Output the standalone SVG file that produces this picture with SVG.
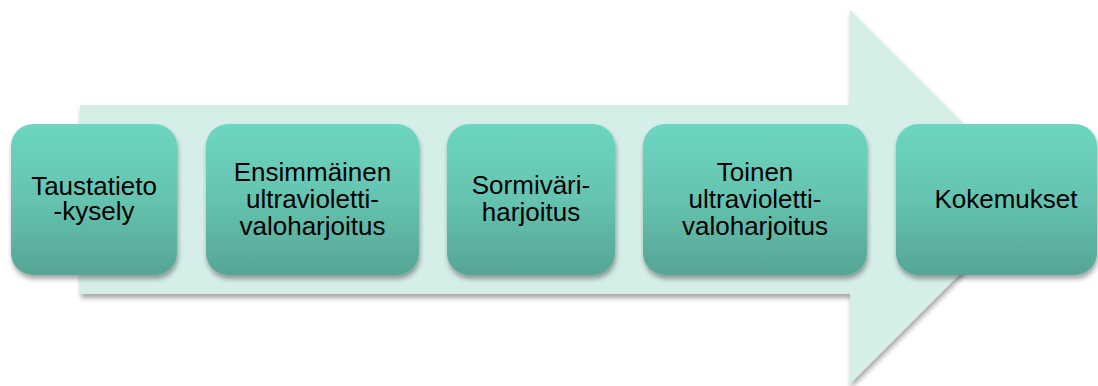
<svg xmlns="http://www.w3.org/2000/svg" width="1098" height="386" viewBox="0 0 1098 386">
<defs>
<linearGradient id="g" x1="0" y1="0" x2="0" y2="1">
<stop offset="0" stop-color="#6dd6c1"/>
<stop offset="0.5" stop-color="#65c3b0"/>
<stop offset="1" stop-color="#56a595"/>
</linearGradient>
<filter id="sh" x="-10%" y="-10%" width="130%" height="130%">
<feGaussianBlur in="SourceAlpha" stdDeviation="2.5"/>
<feOffset dx="1" dy="4" result="b"/>
<feComponentTransfer><feFuncA type="linear" slope="0.35"/></feComponentTransfer>
<feMerge><feMergeNode/><feMergeNode in="SourceGraphic"/></feMerge>
</filter>
</defs>
<style>
.box{fill:url(#g);filter:url(#sh)}
text{font-family:"Liberation Sans",Arial,sans-serif;font-size:26px;fill:#000;text-anchor:middle}
</style>
<rect width="1098" height="386" fill="#fff"/>
<g id="arrow">
<polygon points="80,105 850,105 850,10 1037,197 850,384 850,294 80,294" fill="#d6eee8" filter="url(#sh)"/>
</g>
<g id="connectors"></g>
<g id="n1">
<rect class="box" x="11" y="124" width="166" height="151" rx="22"/>
<text x="94" y="195">Taustatieto</text>
<text x="94" y="220">-kysely</text>
</g>
<g id="n2">
<rect class="box" x="206" y="124" width="213" height="151" rx="22"/>
<text x="312.5" y="181">Ensimmäinen</text>
<text x="312.5" y="208">ultravioletti-</text>
<text x="312.5" y="235">valoharjoitus</text>
</g>
<g id="n3">
<rect class="box" x="447" y="124" width="168" height="151" rx="22"/>
<text x="531" y="194">Sormiväri-</text>
<text x="531" y="221">harjoitus</text>
</g>
<g id="n4">
<rect class="box" x="643" y="124" width="224" height="151" rx="22"/>
<text x="755" y="181">Toinen</text>
<text x="755" y="208">ultravioletti-</text>
<text x="755" y="235">valoharjoitus</text>
</g>
<g id="n5">
<rect class="box" x="896" y="124" width="201" height="151" rx="22"/>
<text x="1006" y="208">Kokemukset</text>
</g>
</svg>
